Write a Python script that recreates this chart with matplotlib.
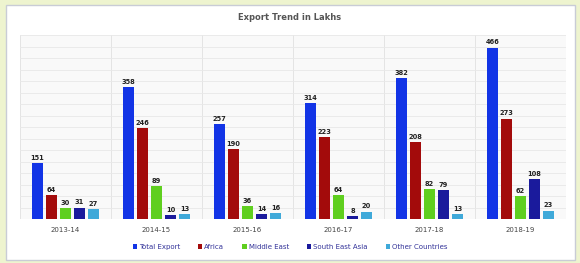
import matplotlib
matplotlib.use("Agg")
import matplotlib.pyplot as plt
import matplotlib.patches as mpatches
import numpy as np

##-----------------------------
## data
##-----------------------------
years = ["2013-14", "2014-15", "2015-16", "2016-17", "2017-18", "2018-19"]
total_export = [151, 358, 257, 314, 382, 466]
africa = [64, 246, 190, 223, 208, 273]
middle_east = [30, 89, 36, 64, 82, 62]
south_east_asia = [31, 10, 14, 8, 79, 108]
other_countries = [27, 13, 16, 20, 13, 23]

series_names = ["Total Export", "Africa", "Middle East", "South East Asia", "Other Countries"]
series_vals = [total_export, africa, middle_east, south_east_asia, other_countries]
colors = ["#1234e6", "#a30b0b", "#5fcf1f", "#1a1a9c", "#3fa9d9"]

##-----------------------------
## figure + frame
##-----------------------------
fig = plt.figure(figsize=(5.8, 2.63), dpi=100)
fig.patch.set_facecolor("#eef4cf")
panel = mpatches.Rectangle((6 / 580, 3 / 263), 569 / 580, 255 / 263,
                           transform=fig.transFigure, facecolor="white",
                           edgecolor="#c9ccd6", linewidth=1.0, zorder=-5)
fig.patches.append(panel)

ax = fig.add_axes([20 / 580, 1 - 219 / 263, 546 / 580, 184 / 263])
ax.set_facecolor("#f9f9f9")

x = np.arange(len(years))
step = 0.154
width = 0.12
for i, (name, vals, c) in enumerate(zip(series_names, series_vals, colors)):
    pos = x + (i - 2) * step
    bars = ax.bar(pos, vals, width, color=c, label=name, zorder=3)
    for b, v in zip(bars, vals):
        ax.text(b.get_x() + b.get_width() / 2, v + 6, str(v), ha="center",
                va="bottom", fontsize=4.8, fontweight="bold", color="#222222",
                zorder=4)

ax.set_xlim(-0.5, len(years) - 0.5)
ax.set_ylim(0, 500)
ax.set_yticks(np.linspace(0, 500, 17))
ax.set_xticks(x)
ax.set_xticklabels(years, fontsize=5, color="#444444")
ax.set_xticks(np.arange(-0.5, len(years), 1), minor=True)
ax.tick_params(axis="x", which="both", length=0, pad=6)
ax.tick_params(axis="y", left=False, labelleft=False)
ax.yaxis.grid(True, color="#e8e8e8", linewidth=0.6, zorder=0)
ax.xaxis.grid(True, which="minor", color="#e0e0e0", linewidth=0.6, zorder=0)
ax.xaxis.grid(False, which="major")
for s in ax.spines.values():
    s.set_visible(False)

fig.text(0.5, 1 - 17 / 263, "Export Trend in Lakhs", ha="center", va="center",
         fontsize=6, fontweight="bold", color="#555555")

fig.legend(loc="center", bbox_to_anchor=(0.5, 1 - 247 / 263), ncol=5,
           fontsize=5, frameon=False, handlelength=0.6, handleheight=0.6,
           handletextpad=0.3, columnspacing=2.6, labelcolor="#333399")

plt.savefig("out.png", dpi=100, facecolor=fig.get_facecolor())
